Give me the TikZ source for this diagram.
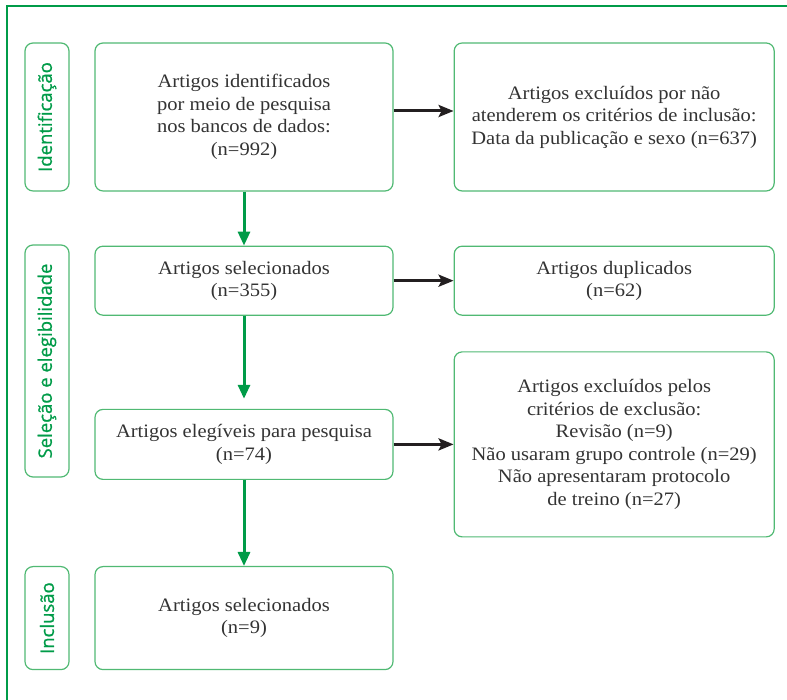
\documentclass[tikz,border=0pt]{standalone}
\usepackage{fontspec}
\setmainfont[FakeStretch=1.08]{Liberation Serif}
\newfontfamily\phasefont[FakeBold=1]{Open Sans}
\usetikzlibrary{
    arrows.meta,
    positioning,
    calc,
}
\definecolor{prismagreen}{RGB}{0,155,72}
\definecolor{boxgreen}{RGB}{80,185,115}
\definecolor{textgray}{RGB}{51,51,51}
\definecolor{arrowblack}{RGB}{35,31,32}

\begin{document}
\begin{tikzpicture}[
    x=1pt, y=1pt,
    node distance= 54pt and 60pt,
    entry/.style={draw=boxgreen, line width=1.2pt, rounded corners=8pt, text=textgray, align=center, inner sep=0pt, minimum width=298pt, font=\fontsize{19}{22.5}\selectfont},
    excluded/.style={entry, minimum width=320pt},
    phase/.style={draw=boxgreen, line width=1.2pt, rounded corners=8pt, rotate=90, text=prismagreen, inner sep=0pt, minimum height=44pt, font=\phasefont\fontsize{18.5}{20}\selectfont},
    flow/.style={draw=prismagreen, line width=3pt, -{Triangle[length=14pt,width=12pt]}},
    skip/.style={draw=arrowblack, line width=3pt, -{Stealth[length=15pt,width=12pt,inset=3pt]}},
]
\useasboundingbox (0,0) rectangle (787,700);

\draw[prismagreen, line width=1.5pt] (7,0) |- (787,694);

\node[entry, minimum height=148pt] (ident) at (244,583) {Artigos identificados\\por meio de pesquisa\\nos bancos de dados:\\(n=992)};
\node[entry, minimum height=69pt] (selec) [below=of ident] {Artigos selecionados\\(n=355)};
\node[entry, minimum height=70pt] (eleg) [below=93pt of selec] {Artigos elegíveis para pesquisa\\(n=74)};
\node[entry, minimum height=103pt] (incl) [below=86pt of eleg] {Artigos selecionados\\(n=9)};

\node[excluded, minimum height=148pt] (exinc) [right=of ident] {Artigos excluídos por não\\atenderem os critérios de inclusão:\\Data da publicação e sexo (n=637)};
\node[excluded, minimum height=69pt] (dupl) [right=of selec] {Artigos duplicados\\(n=62)};
\node[excluded, minimum height=185pt] (excrit) [right=of eleg] {Artigos excluídos pelos\\critérios de exclusão:\\Revisão (n=9)\\Não usaram grupo controle (n=29)\\Não apresentaram protocolo\\de treino (n=27)};

\node[phase, minimum width=148pt] (ph1) at (47,583) {Identificação};
\node[phase, minimum width=232pt] (ph2) at (47,339) {Seleção e elegibilidade};
\node[phase, minimum width=103pt] (ph3) at (ph1 |- incl) {Inclusão};

\draw[flow] (ident) -- (selec);
\draw[flow] (selec) -- ([yshift=10pt]eleg.north);
\draw[flow] (eleg) -- (incl);

\draw[skip] ([yshift=6pt]ident.east) -- ([yshift=6pt]exinc.west);
\draw[skip] (selec) -- (dupl);
\draw[skip] (eleg) -- (excrit);

\end{tikzpicture}
\end{document}
